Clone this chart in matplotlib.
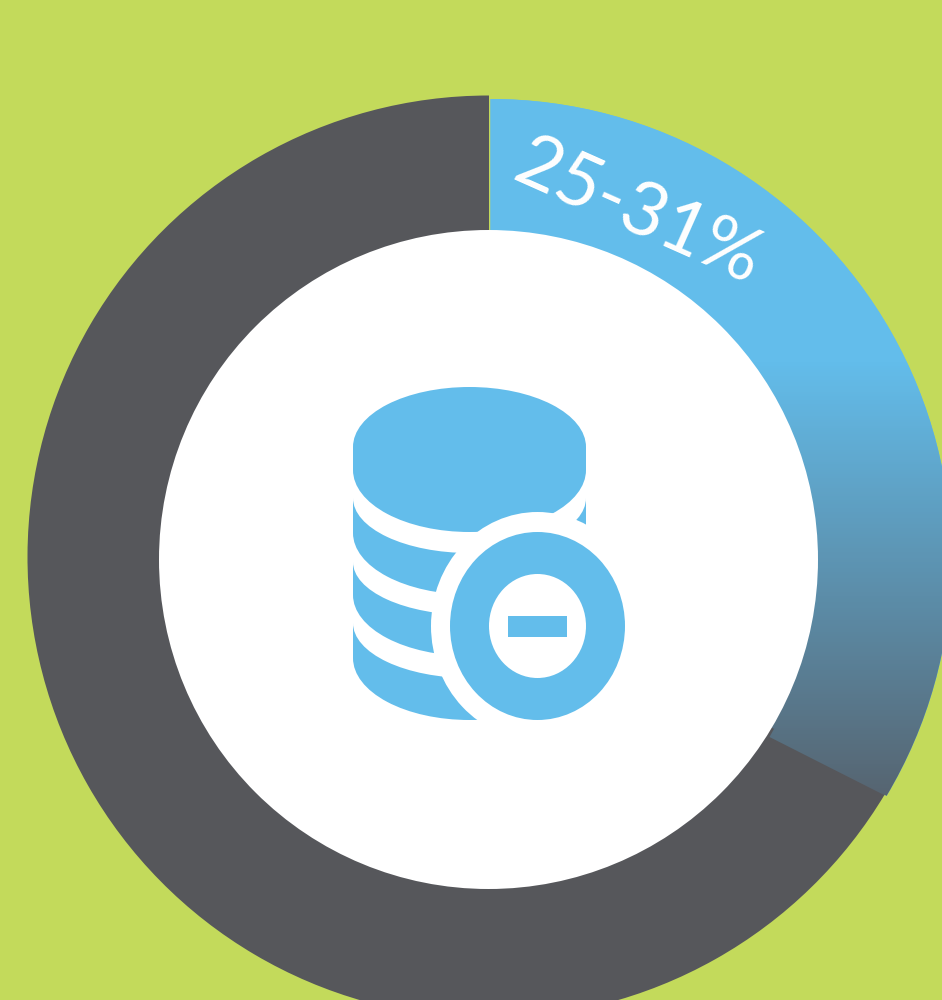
import numpy as np
import matplotlib
matplotlib.use('Agg')
import matplotlib.pyplot as plt
from matplotlib.colors import LinearSegmentedColormap
from matplotlib.patches import Ellipse, Polygon, Rectangle

# Data
segments = ['25-31%', 'rest']
shares = [33.55, 66.45]
label = segments[0]

# Colours
GREEN = '#C3DA5B'
BLUE = '#63BDEB'
GREY = '#56575B'
FADE = '#566470'

fig = plt.figure(figsize=(9.42, 10), dpi=100, facecolor=GREEN)
ax = fig.add_axes([0, 0, 1, 1])

# y axis goes down (pixels), so angles run clockwise on screen
wedges, _ = ax.pie(shares, colors=[BLUE, GREY], center=(489, 557), radius=461.5,
                   startangle=-90, counterclock=True, wedgeprops=dict(width=200, linewidth=0))
ax.set_xlim(0, 942)
ax.set_ylim(1000, 0)
ax.set_aspect('equal')
ax.axis('off')

# blue part sits a bit to the right of the grey one
wedges[0].set_center((490.5, 560))
wedges[0].set_radius(461)

# gradient inside the blue wedge
fade_cmap = LinearSegmentedColormap.from_list('fade', [BLUE, FADE])
grad = np.clip((np.linspace(90, 810, 360) - 360) / (800 - 360), 0, 1).reshape(-1, 1)
im = ax.imshow(grad, cmap=fade_cmap, extent=(480, 950, 810, 90), aspect='auto', zorder=2)
im.set_clip_path(wedges[0])

# the end of the blue part is not quite radial, the inner corner runs further round
corner = Polygon([(769.5, 737), (885, 795.5), (790, 700)], closed=True, transform=ax.transData)
im2 = ax.imshow(grad, cmap=fade_cmap, extent=(480, 950, 810, 90), aspect='auto', zorder=2)
im2.set_clip_path(corner)
ax.set_xlim(0, 942)
ax.set_ylim(1000, 0)

# hole
ax.add_patch(Ellipse((488.5, 559.5), 659, 659, facecolor='white', edgecolor='none', zorder=4))


def body(top, bottom, ry, color):
    ax.add_patch(Rectangle((353, top), 233, bottom - top, facecolor=color, edgecolor='none', zorder=5))
    ax.add_patch(Ellipse((469.5, bottom), 233, 2 * ry, facecolor=color, edgecolor='none', zorder=5))


# database icon, painted from the bottom layer up
body(623, 658, 62, BLUE)
body(560, 623, 55, 'white')
body(562, 595, 61, BLUE)
body(498, 562, 53, 'white')
body(498, 533, 61.5, BLUE)
body(440, 498, 55, 'white')
body(447, 470, 62, BLUE)
ax.add_patch(Ellipse((469.5, 447), 233, 120, facecolor=BLUE, edgecolor='none', zorder=5))

# minus badge
ax.add_patch(Ellipse((537.5, 626), 213, 228, facecolor='white', edgecolor='none', zorder=6))
ax.add_patch(Ellipse((537.5, 626), 175, 188, facecolor=BLUE, edgecolor='none', zorder=6))
ax.add_patch(Ellipse((537.5, 626), 97, 104, facecolor='white', edgecolor='none', zorder=6))
ax.add_patch(Rectangle((508, 616), 59, 21, facecolor=BLUE, edgecolor='none', zorder=6))

ax.text(638, 213, label, color='white', fontsize=54, family='Lato', fontweight='normal',
        rotation=-24, rotation_mode='anchor', ha='center', va='center', zorder=7)

fig.savefig('out.png', dpi=100, facecolor=GREEN)
